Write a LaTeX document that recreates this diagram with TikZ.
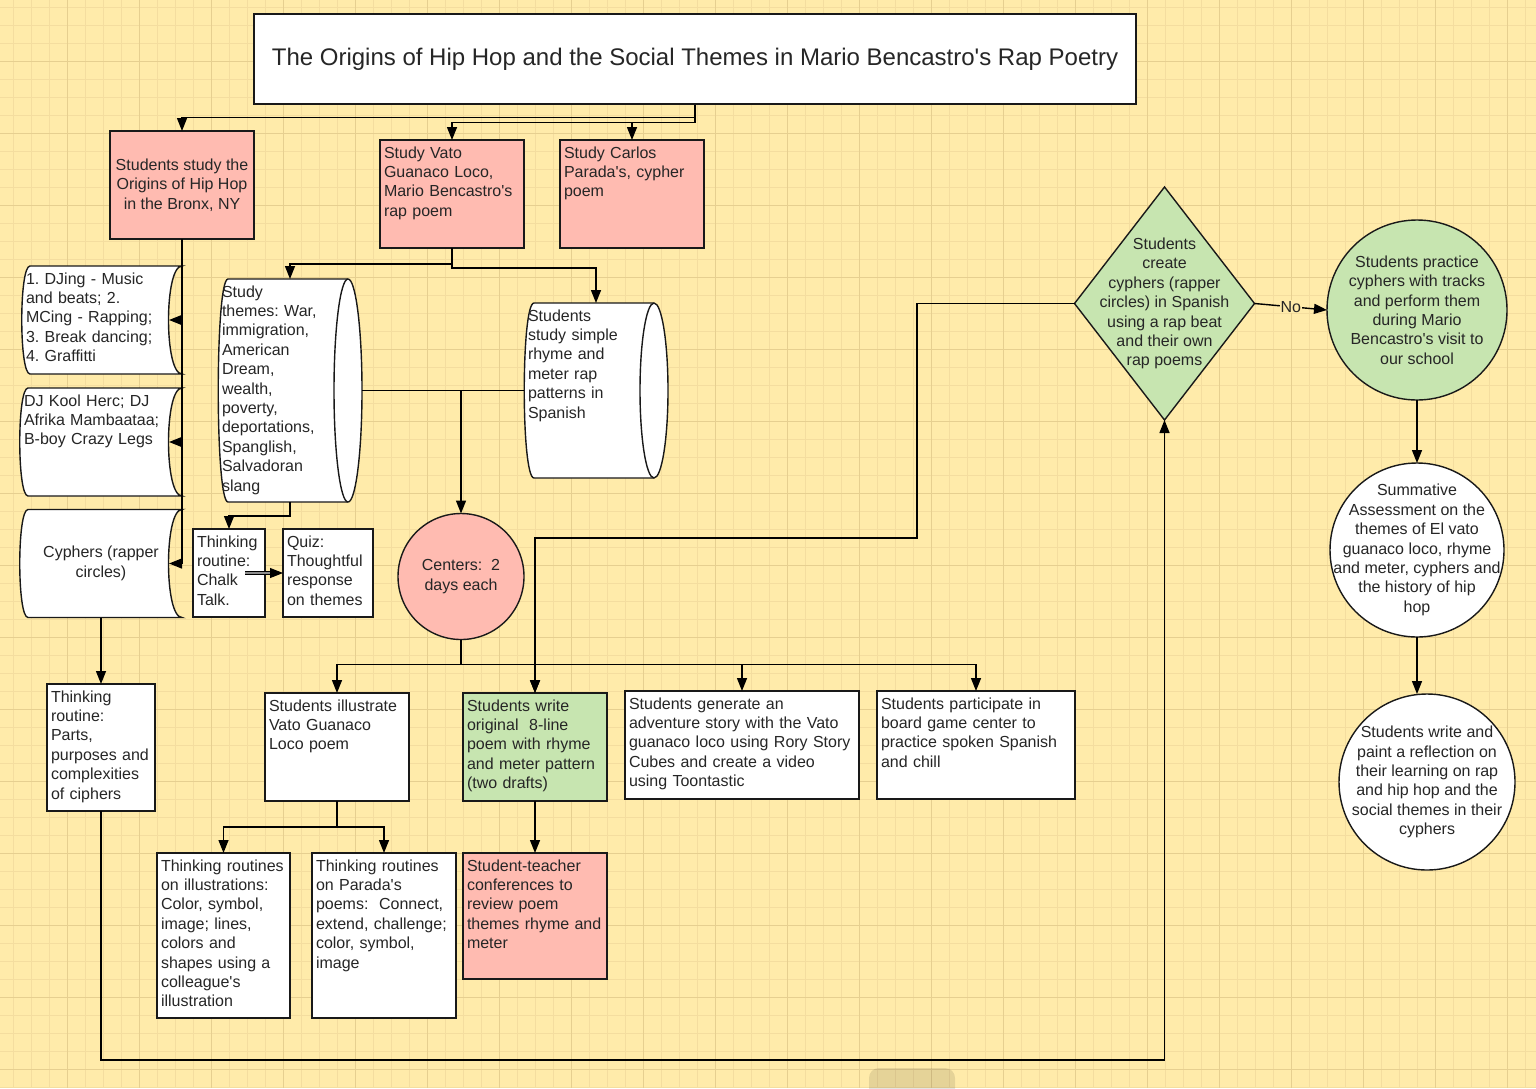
\documentclass[tikz,border=0pt]{standalone}
\usepackage{fontspec}
\setmainfont{Liberation Sans}[Ligatures=TeXOff]
\usetikzlibrary{arrows.meta,positioning,shapes.geometric}
\definecolor{paper}{HTML}{FFEBAA}
\definecolor{gridminor}{HTML}{F4DD9F}
\definecolor{gridmajor}{HTML}{E6CF90}
\definecolor{salmon}{HTML}{FFBBB1}
\definecolor{sage}{HTML}{C7E5B0}
\pgfdeclarelayer{background}
\pgfsetlayers{background,main}
\newcommand{\bodyfont}{\fontsize{16}{19.4}\selectfont}
\frenchspacing

\begin{document}
\begin{tikzpicture}[x=1pt, y=-1pt,
    outline/.style={draw=black!90, line width=1.4pt},
    words/.style={font=\bodyfont, text=black!85, outer sep=0pt},
    box/.style={outline, words, fill=white, align=left,
      inner xsep=4pt, inner ysep=4pt, text height=14pt},
    tb/.style 2 args={text width=#1, text depth=#2},
    pinkbox/.style={box, fill=salmon},
    greenbox/.style={box, fill=sage},
    store/.style={words, align=left, inner xsep=4pt, inner ysep=4pt, text height=14pt},
    shapeline/.style={outline, fill=white},
    bubble/.style={circle, outline, outer sep=0pt, inner sep=0pt, minimum size=#1},
    decide/.style={diamond, outline, fill=sage, outer sep=0pt, inner sep=0pt,
      minimum width=180pt, minimum height=233pt},
    inside/.style={align=center, font=\bodyfont, text=black!85},
    arrow/.style={-{Triangle[length=13pt,width=10pt]}, line width=1.4pt},
    link/.style={line width=1.4pt}
  ]
  \useasboundingbox (0,0) rectangle (1536,1088);

  % paper grid
  \begin{pgfonlayer}{background}
    \fill[paper] (0,0) rectangle (1536,1088);
    \foreach \x in {13,31,...,1536} \draw[gridminor, line width=0.8pt] (\x,0) -- (\x,1088);
    \foreach \y in {7,25,...,1088} \draw[gridminor, line width=0.8pt] (0,\y) -- (1536,\y);
    \foreach \x in {67,139,...,1536} \draw[gridmajor, line width=1pt] (\x,0) -- (\x,1088);
    \foreach \y in {61,133,...,1088} \draw[gridmajor, line width=1pt] (0,\y) -- (1536,\y);
  \end{pgfonlayer}

  \node[outline, fill=white, minimum width=882pt, minimum height=90pt, text=black!85,
    font=\fontsize{24}{28}\selectfont] (title) at (695,59)
    {The Origins of Hip Hop and the Social Themes in Mario Bencastro's Rap Poetry};

  % top row
  \node[outline, words, fill=salmon, align=center, minimum width=144pt, minimum height=108pt]
    (hiphop) at (182,185) {Students study the\\Origins of Hip Hop\\in the Bronx, NY};
  \node[pinkbox, tb={136pt}{86pt}] (vato) at (452,194)
    {Study Vato\\Guanaco Loco,\\Mario Bencastro's\\rap poem};
  \node[pinkbox, tb={136pt}{86pt}] (parada) at (632,194)
    {Study Carlos\\Parada's, cypher\\poem};

  % hip hop history
  \node[store, tb={152pt}{86pt}] (elems) at (102,320)
    {1. DJing - Music\\and beats; 2.\\MCing - Rapping;\\3. Break dancing;\\4. Graffitti};
  \node[store, tb={154pt}{86pt}] (pioneers) at (101,442)
    {DJ Kool Herc; DJ\\Afrika Mambaataa;\\B-boy Crazy Legs};
  \node[words, align=center, minimum width=162pt, minimum height=108pt] (cyphers) at (101,563.5)
    {Cyphers (rapper\\circles)};
  \node[box, tb={100pt}{105pt}] (parts) at (101,747.5)
    {Thinking\\routine:\\Parts,\\purposes and\\complexities\\of ciphers};

  % themes and rhyme
  \node[store, tb={136pt}{201pt}] (themes) at (290,390.5)
    {Study\\themes: War,\\immigration,\\American\\Dream,\\wealth,\\poverty,\\deportations,\\Spanglish,\\Salvadoran\\slang};
  \node[store, tb={136pt}{153pt}] (rhyme) at (596,390.5)
    {Students\\study simple\\rhyme and\\meter rap\\patterns in\\Spanish};
  \node[box, tb={64pt}{66pt}] (chalk) at (229,573) {Thinking\\routine:\\Chalk\\Talk.};
  \node[box, tb={82pt}{66pt}] (quiz) at (328,573) {Quiz:\\Thoughtful\\response\\on themes};

  % centers
  \node[bubble=126pt, fill=salmon, inside] (centers) at (461,576.5) {Centers:\ \ 2\\days each};
  \node[box, tb={136pt}{86pt}] (illus) at (337,747)
    {Students illustrate\\Vato Guanaco\\Loco poem};
  \node[greenbox, tb={136pt}{86pt}] (write) at (535,747)
    {Students write\\original\ \ 8-line\\poem with rhyme\\and meter pattern\\(two drafts)};
  \node[box, tb={226pt}{86pt}] (story) at (742,745)
    {Students generate an\\adventure story with the Vato\\guanaco loco using Rory Story\\Cubes and create a video\\using Toontastic};
  \node[box, tb={190pt}{86pt}] (board) at (976,745)
    {Students participate in\\board game center to\\practice spoken Spanish\\and chill};
  \node[box, tb={125pt}{143pt}] (illusthink) at (223.5,935.5)
    {Thinking routines\\on illustrations:\\Color, symbol,\\image; lines,\\colors and\\shapes using a\\colleague's\\illustration};
  \node[box, tb={136pt}{143pt}] (paradathink) at (384,935.5)
    {Thinking routines\\on Parada's\\poems:\ \ Connect,\\extend, challenge;\\color, symbol,\\image};
  \node[pinkbox, tb={136pt}{104pt}] (conf) at (535,916)
    {Student-teacher\\conferences to\\review poem\\themes rhyme and\\meter};

  % right side
  \node[decide, label={[inside]center:Students\\create\\cyphers (rapper\\circles) in Spanish\\using a rap beat\\and their own\\rap poems}]
    (create) at (1164.5,303.5) {};
  \node[bubble=180pt, fill=sage, label={[inside]center:Students practice\\cyphers with tracks\\and perform them\\during Mario\\Bencastro's visit to\\our school}]
    (perform) at (1417,310) {};
  \node[bubble=174pt, fill=white, label={[inside]center:Summative\\Assessment on the\\themes of El vato\\guanaco loco, rhyme\\and meter, cyphers and\\the history of hip\\hop}]
    (assess) at (1417,550) {};
  \node[bubble=176pt, fill=white, label={[inside]center:Students write and\\paint a reflection on\\their learning on rap\\and hip hop and the\\social themes in their\\cyphers}]
    (reflect) at (1427,782) {};

  % connectors
  \draw[arrow] (title.south) -- ++(0,13) -| (hiphop.north);
  \draw[arrow] (title.south) -- ++(0,18) -| (vato.north);
  \draw[arrow] (title.south) -- ++(0,18) -| (parada.north);
  \draw[link] (hiphop.south) -- (hiphop.south |- cyphers.east);
  \foreach \n in {elems,pioneers,cyphers}
    \draw[arrow] (hiphop.south |- \n.east) -- ([xshift=-13pt]\n.east);
  \draw[arrow] (vato.south) -- ++(0,16) -| (themes.north);
  \draw[arrow] (vato.south) -- ++(0,20) -| (rhyme.north);
  \draw[link] (themes.east) -- (rhyme.west);
  \draw[arrow] (themes.east -| centers.north) -- (centers.north);
  \draw[arrow] (themes.south) -- ++(0,14) -| (chalk.north);
  \draw[arrow, double=black!45, double distance=1.4pt, line width=0.9pt] ([xshift=-20pt]chalk.east) -- (quiz.west);
  \draw[arrow] (cyphers.south) -- (parts.north);
  \draw[arrow] (parts.south) -- ++(0,249) -| (create.south);
  \draw[arrow] (create.west) -- ++(-157.5,0) -- ++(0,234.5) -| (write.north);
  \draw[arrow] (create.east) -- node[fill=paper, inner sep=1pt, words] {No} (perform.west);
  \draw[arrow] (perform.south) -- (assess.north);
  \draw[arrow] (assess.south) -- (assess.south |- reflect.north);
  \foreach \n in {illus,write,story,board}
    \draw[arrow] (centers.south) -- ++(0,25) -| (\n.north);
  \foreach \n in {illusthink,paradathink}
    \draw[arrow] (illus.south) -- ++(0,26) -| (\n.north);
  \draw[arrow] (write.south) -- (conf.north);

  % stored data and drum outlines under the text
  \begin{pgfonlayer}{background}
    \foreach \n in {elems,pioneers,cyphers}
      \draw[shapeline] ([xshift=8pt]\n.north west) -- (\n.north east)
        .. controls ([xshift=-18pt]\n.north east) and ([xshift=-18pt]\n.south east) .. (\n.south east)
        -- ([xshift=8pt]\n.south west)
        .. controls ([xshift=-3pt]\n.south west) and ([xshift=-3pt]\n.north west) .. ([xshift=8pt]\n.north west) -- cycle;
    \foreach \n/\r in {themes/111.5,rhyme/87.5} {
      \draw[shapeline] ([xshift=10pt]\n.north west) -- ([xshift=-14pt]\n.north east)
        arc[start angle=90, end angle=-90, x radius=14pt, y radius=\r pt]
        -- ([xshift=10pt]\n.south west)
        .. controls ([xshift=-3pt]\n.south west) and ([xshift=-3pt]\n.north west) .. ([xshift=10pt]\n.north west) -- cycle;
      \draw[outline] ([xshift=-14pt]\n.north east) arc[start angle=90, end angle=270, x radius=14pt, y radius=\r pt];
    }
  \end{pgfonlayer}

  \fill[black, opacity=0.1, rounded corners=10pt] (869,1068) rectangle (955,1100);
\end{tikzpicture}
\end{document}
